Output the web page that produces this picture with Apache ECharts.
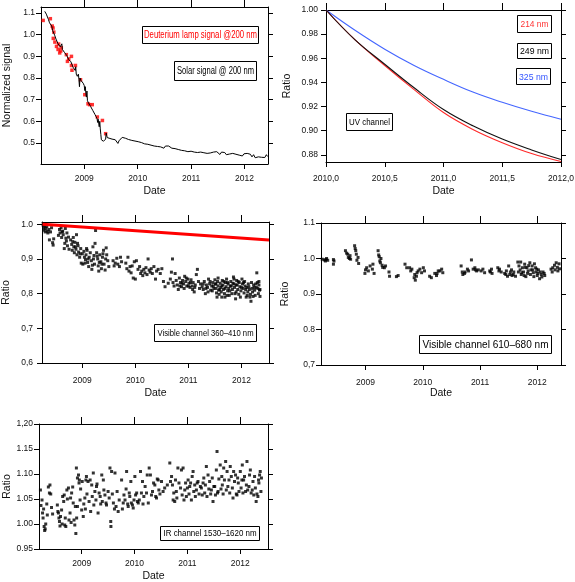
<!DOCTYPE html>
<html>
<head>
<meta charset="utf-8">
<script src="https://cdn.jsdelivr.net/npm/echarts@6/dist/echarts.min.js"></script>
<style>
html,body{margin:0;padding:0;background:#fff;}
#chart{width:575px;height:582px;}
</style>
</head>
<body>
<div id="chart"></div>
<script>
// ---------------- DATA ----------------
// Panel 1: normalized signal
const solarSignal = [
[2008.26,1.108],[2008.29,1.095],[2008.31,1.088],[2008.33,1.070],[2008.35,1.055],[2008.37,1.062],[2008.39,1.040],[2008.41,1.018],[2008.43,1.010],[2008.45,0.995],[2008.47,0.980],[2008.49,0.972],[2008.51,0.958],[2008.53,0.950],[2008.55,0.944],[2008.57,0.936],[2008.58,0.958],[2008.59,0.932],[2008.61,0.925],[2008.63,0.918],[2008.65,0.910],[2008.67,0.905],[2008.69,0.896],[2008.70,0.905],[2008.71,0.885],[2008.73,0.892],[2008.75,0.875],[2008.77,0.862],[2008.79,0.850],[2008.81,0.842],[2008.83,0.835],[2008.84,0.852],[2008.85,0.818],[2008.87,0.808],[2008.88,0.800],[2008.89,0.818],[2008.90,0.795],[2008.91,0.760],[2008.92,0.800],[2008.94,0.788],[2008.96,0.782],[2008.98,0.776],[2009.00,0.765],[2009.01,0.742],[2009.02,0.760],[2009.03,0.728],[2009.04,0.712],[2009.05,0.740],[2009.06,0.695],[2009.08,0.685],[2009.10,0.678],[2009.12,0.668],[2009.14,0.660],[2009.16,0.650],[2009.18,0.642],[2009.20,0.632],[2009.22,0.622],[2009.24,0.612],[2009.25,0.595],[2009.26,0.610],[2009.28,0.575],[2009.29,0.600],[2009.30,0.565],[2009.31,0.540],[2009.32,0.515],[2009.34,0.512],[2009.36,0.508],[2009.38,0.506],[2009.40,0.518],[2009.41,0.546],[2009.43,0.525],[2009.45,0.520],[2009.48,0.521],
[2009.52,0.518],[2009.55,0.512],[2009.58,0.515],[2009.61,0.508],[2009.63,0.498],[2009.65,0.510],[2009.68,0.514],[2009.71,0.526],[2009.74,0.530],[2009.77,0.522],[2009.80,0.524],[2009.83,0.516],[2009.86,0.520],[2009.89,0.512],[2009.92,0.516],[2009.95,0.509],[2009.98,0.514],[2010.01,0.506],[2010.04,0.512],[2010.07,0.502],[2010.10,0.508],[2010.13,0.496],[2010.16,0.504],[2010.19,0.494],[2010.22,0.498],[2010.25,0.490],[2010.28,0.496],[2010.31,0.486],[2010.34,0.492],[2010.37,0.484],[2010.40,0.490],[2010.43,0.482],[2010.46,0.478],[2010.49,0.476],[2010.52,0.486],[2010.55,0.484],[2010.58,0.486],[2010.61,0.480],[2010.64,0.476],[2010.67,0.479],[2010.70,0.474],[2010.73,0.480],[2010.76,0.470],[2010.79,0.476],[2010.82,0.466],[2010.85,0.472],[2010.88,0.464],[2010.91,0.468],[2010.94,0.460],[2010.97,0.466],[2011.00,0.462],[2011.03,0.468],[2011.06,0.458],[2011.09,0.464],[2011.12,0.456],[2011.15,0.462],[2011.18,0.458],[2011.21,0.464],[2011.24,0.455],[2011.27,0.460],[2011.30,0.452],[2011.33,0.461],[2011.36,0.454],[2011.39,0.463],[2011.42,0.458],[2011.45,0.451],[2011.48,0.460],[2011.51,0.453],[2011.54,0.447],[2011.57,0.458],[2011.60,0.450],[2011.63,0.456],[2011.66,0.446],[2011.69,0.455],[2011.72,0.449],[2011.75,0.458],[2011.78,0.452],[2011.81,0.461],[2011.84,0.448],[2011.87,0.454],[2011.90,0.444],[2011.93,0.452],[2011.96,0.440],[2011.99,0.450],[2012.02,0.445],[2012.05,0.452],[2012.08,0.444],[2012.11,0.448],[2012.14,0.436],[2012.17,0.446],[2012.20,0.432],[2012.23,0.440],[2012.26,0.436],[2012.29,0.442],[2012.32,0.434],[2012.35,0.440],[2012.38,0.433],[2012.41,0.446],[2012.43,0.438]
];
const deuteriumSignal = [
[2008.23,1.066],[2008.365,1.074],[2008.40,1.040],[2008.415,1.031],[2008.43,1.012],[2008.42,0.983],[2008.45,0.966],[2008.48,0.946],[2008.52,0.957],[2008.51,0.932],[2008.54,0.916],[2008.56,0.925],[2008.57,0.940],[2008.665,0.908],[2008.685,0.877],[2008.71,0.888],[2008.76,0.900],[2008.76,0.858],[2008.835,0.858],[2008.77,0.836],[2008.93,0.792],[2009.01,0.723],[2009.07,0.681],[2009.10,0.677],[2009.15,0.677],[2009.245,0.620],[2009.34,0.604],[2009.40,0.543]
];
const p1XTicks = [2009, 2010, 2011, 2012];
const p1XLabels = ['2009', '2010', '2011', '2012'];
const p1YTicks = [0.5, 0.6, 0.7, 0.8, 0.9, 1.0, 1.1];
const p1YLabels = ['0.5', '0.6', '0.7', '0.8', '0.9', '1.0', '1.1'];

// Panel 2: UV channel ratio
const uvDates = [2010, 2010.25, 2010.5, 2010.75, 2011, 2011.25, 2011.5, 2011.75, 2012];
const uv214 = [1.000, 0.975, 0.954, 0.934, 0.915, 0.901, 0.890, 0.881, 0.8744];
const uv249 = [1.000, 0.975, 0.955, 0.9355, 0.9175, 0.904, 0.893, 0.884, 0.876];
const uv325 = [1.000, 0.983, 0.9675, 0.954, 0.9425, 0.932, 0.9235, 0.916, 0.9095];
const p2XTicks = [2010, 2010.5, 2011, 2011.5, 2012];
const p2XLabels = ['2010,0', '2010,5', '2011,0', '2011,5', '2012,0'];
const p2YTicks = [0.88, 0.90, 0.92, 0.94, 0.96, 0.98, 1.00];
const p2YLabels = ['0.88', '0.90', '0.92', '0.94', '0.96', '0.98', '1.00'];

// Panel 3: visible channel 360-410 nm
const vis360 = [
[2008.26,0.998],[2008.27,0.990],[2008.28,0.983],[2008.29,0.995],[2008.30,0.978],[2008.31,0.988],[2008.33,0.993],[2008.34,0.980],[2008.35,0.975],[2008.37,0.985],[2008.38,0.955],[2008.40,0.978],[2008.42,0.990],[2008.44,0.947],[2008.45,0.940],[2008.46,0.958],
[2008.55,0.968],[2008.57,0.985],[2008.58,0.975],[2008.60,0.990],[2008.61,0.962],[2008.62,0.978],[2008.63,0.980],[2008.64,0.970],[2008.66,0.930],[2008.67,0.945],[2008.68,0.988],[2008.69,0.960],[2008.70,0.952],[2008.71,0.975],[2008.72,0.938],[2008.74,0.963],[2008.75,0.928],
[2008.78,0.955],[2008.80,0.942],[2008.81,0.925],[2008.82,0.950],[2008.83,0.962],[2008.84,0.935],[2008.85,0.918],[2008.86,0.948],[2008.87,0.935],[2008.88,0.928],[2008.89,0.970],[2008.90,0.912],[2008.91,0.945],[2008.92,0.938],[2008.93,0.920],[2008.95,0.905],[2008.96,0.915],[2008.97,0.930],[2008.98,0.888],[2009.00,0.915],[2009.01,0.885],
[2009.03,0.922],[2009.04,0.905],[2009.05,0.888],[2009.06,0.898],[2009.07,0.912],[2009.08,0.930],[2009.09,0.925],[2009.10,0.890],[2009.11,0.900],[2009.12,0.878],[2009.13,0.905],[2009.15,0.918],[2009.17,0.895],[2009.18,0.870],[2009.19,0.882],[2009.20,0.935],[2009.21,0.900],[2009.22,0.910],[2009.23,0.885],[2009.24,0.945],[2009.25,0.982],
[2009.27,0.918],[2009.28,0.908],[2009.29,0.900],[2009.30,0.880],[2009.31,0.865],[2009.32,0.890],[2009.33,0.912],[2009.35,0.892],[2009.36,0.872],[2009.37,0.885],[2009.38,0.905],[2009.39,0.915],[2009.40,0.925],[2009.41,0.885],[2009.43,0.868],[2009.44,0.900],[2009.45,0.932],[2009.46,0.912],[2009.48,0.895],[2009.50,0.878],
[2009.58,0.895],[2009.60,0.880],[2009.62,0.888],[2009.65,0.902],[2009.67,0.885],[2009.70,0.878],[2009.72,0.905],[2009.74,0.892],
[2009.82,0.888],[2009.84,0.872],[2009.86,0.905],[2009.88,0.865],[2009.90,0.878],[2009.92,0.860],[2009.94,0.880],[2009.96,0.845],[2009.98,0.892],[2010.00,0.842],[2010.02,0.895],
[2010.05,0.870],[2010.08,0.878],[2010.10,0.858],[2010.12,0.865],[2010.14,0.852],[2010.16,0.870],[2010.18,0.860],[2010.20,0.875],[2010.22,0.855],[2010.24,0.900],[2010.26,0.868],[2010.28,0.862],[2010.30,0.872],[2010.32,0.858],[2010.35,0.878],[2010.38,0.842],[2010.40,0.865],[2010.43,0.870],[2010.47,0.858],[2010.50,0.872],
[2010.53,0.835],[2010.56,0.820],[2010.62,0.830],[2010.66,0.842],[2010.68,0.862],[2010.70,0.900],[2010.71,0.832],[2010.73,0.822],[2010.75,0.858],
[2010.77,0.838],[2010.79,0.825],[2010.81,0.812],[2010.83,0.845],[2010.84,0.822],[2010.85,0.832],[2010.87,0.820],[2010.88,0.830],[2010.89,0.838],[2010.91,0.828],[2010.92,0.815],[2010.93,0.850],[2010.95,0.835],[2010.96,0.845],[2010.97,0.822],[2010.99,0.842],
[2011.00,0.822],[2011.01,0.830],[2011.03,0.818],[2011.04,0.832],[2011.05,0.840],[2011.07,0.822],[2011.08,0.812],[2011.09,0.832],[2011.11,0.805],[2011.12,0.818],[2011.13,0.825],[2011.15,0.855],[2011.17,0.870],[2011.19,0.835],[2011.21,0.815],[2011.23,0.828],
[2011.26,0.820],[2011.28,0.812],[2011.28,0.828],[2011.30,0.835],[2011.32,0.800],[2011.33,0.815],[2011.34,0.825],[2011.36,0.818],[2011.37,0.805],[2011.38,0.842],[2011.40,0.828],[2011.41,0.835],[2011.42,0.810],[2011.44,0.822],[2011.45,0.808],[2011.46,0.832],[2011.47,0.822],[2011.48,0.815],
[2011.50,0.840],[2011.51,0.828],[2011.52,0.815],[2011.52,0.828],[2011.53,0.802],[2011.54,0.790],[2011.55,0.835],[2011.56,0.822],[2011.56,0.845],[2011.57,0.810],[2011.58,0.798],[2011.59,0.812],[2011.60,0.830],[2011.61,0.818],[2011.62,0.805],[2011.63,0.790],[2011.63,0.822],[2011.64,0.838],[2011.65,0.825],[2011.66,0.812],[2011.67,0.835],[2011.68,0.800],[2011.69,0.815],[2011.69,0.790],[2011.70,0.832],[2011.71,0.820],[2011.72,0.842],[2011.73,0.795],[2011.74,0.808],[2011.74,0.832],[2011.75,0.828],[2011.76,0.815],[2011.77,0.795],[2011.78,0.808],[2011.79,0.822],[2011.80,0.835],[2011.81,0.822],[2011.82,0.800],[2011.83,0.812],[2011.84,0.830],[2011.85,0.848],[2011.86,0.828],[2011.86,0.842],[2011.87,0.818],[2011.88,0.800],[2011.89,0.785],[2011.90,0.805],[2011.90,0.825],[2011.91,0.838],[2011.92,0.825],[2011.93,0.812],[2011.94,0.835],[2011.95,0.798],[2011.96,0.832],[2011.97,0.820],[2011.98,0.790],[2011.99,0.808],
[2012.00,0.818],[2012.01,0.842],[2012.02,0.828],[2012.03,0.815],[2012.04,0.832],[2012.05,0.802],[2012.06,0.835],[2012.07,0.822],[2012.08,0.812],[2012.09,0.790],[2012.10,0.818],[2012.11,0.795],[2012.12,0.805],[2012.13,0.828],[2012.14,0.820],[2012.15,0.812],[2012.16,0.790],[2012.17,0.798],[2012.18,0.778],[2012.19,0.832],[2012.20,0.815],[2012.21,0.805],[2012.22,0.792],[2012.23,0.825],[2012.24,0.818],[2012.25,0.810],[2012.26,0.795],[2012.27,0.828],[2012.28,0.818],[2012.29,0.860],[2012.30,0.832],[2012.31,0.815],[2012.32,0.800],[2012.33,0.825],[2012.33,0.835],[2012.34,0.810],[2012.35,0.792],[2012.35,0.812]
];
const vis360Ref = [[2008.25, 1.0], [2012.52, 0.955]];
const p3XTicks = [2009, 2010, 2011, 2012];
const p3XLabels = ['2009', '2010', '2011', '2012'];
const p3YTicks = [0.6, 0.7, 0.8, 0.9, 1.0];
const p3YLabels = ['0,6', '0,7', '0,8', '0,9', '1.0'];

// Panel 4: visible channel 610-680 nm
const vis610 = [
[2008.244,0.998],[2008.28,0.996],[2008.30,0.993],[2008.31,0.997],[2008.32,1.000],[2008.34,0.995],[2008.44,0.997],[2008.45,0.993],[2008.44,0.984],
[2008.65,1.022],[2008.67,1.015],[2008.69,1.012],[2008.70,1.003],[2008.72,1.000],[2008.73,1.008],[2008.74,0.998],[2008.81,1.036],[2008.82,1.028],[2008.83,1.022],[2008.84,1.012],[2008.85,0.995],[2008.87,1.003],[2008.88,0.986],
[2008.99,0.958],[2009.00,0.968],[2009.02,0.974],[2009.05,0.965],[2009.08,0.979],[2009.12,0.970],[2009.13,0.984],[2009.15,0.958],
[2009.22,1.022],[2009.23,1.010],[2009.24,1.005],[2009.25,0.993],[2009.26,0.988],[2009.27,1.000],[2009.29,0.981],[2009.30,0.975],[2009.33,0.974],[2009.35,0.979],
[2009.41,0.962],[2009.42,0.950],[2009.54,0.949],[2009.57,0.952],
[2009.69,0.984],[2009.72,0.974],[2009.77,0.974],[2009.79,0.965],[2009.81,0.970],[2009.85,0.946],[2009.86,0.955],[2009.87,0.939],[2009.89,0.950],[2009.90,0.960],[2009.92,0.965],[2009.95,0.970],[2009.98,0.960],[2010.01,0.974],[2010.03,0.965],
[2010.12,0.950],[2010.15,0.946],[2010.21,0.958],[2010.24,0.952],[2010.25,0.958],[2010.27,0.965],[2010.30,0.965],[2010.33,0.970],[2010.35,0.960],
[2010.67,0.979],[2010.69,0.962],[2010.70,0.955],[2010.73,0.958],[2010.74,0.962],[2010.78,0.970],[2010.80,0.965],
[2010.85,0.996],[2010.88,0.970],[2010.91,0.974],[2010.92,0.968],[2010.94,0.965],[2010.97,0.968],
[2011.02,0.965],[2011.05,0.970],[2011.08,0.960],[2011.17,0.965],[2011.18,0.962],[2011.20,0.970],[2011.21,0.958],
[2011.31,0.974],[2011.33,0.965],[2011.34,0.970],[2011.37,0.962],[2011.43,0.958],[2011.45,0.955],[2011.46,0.965],[2011.48,0.950],[2011.50,0.979],[2011.52,0.955],[2011.53,0.962],[2011.55,0.968],[2011.56,0.952],[2011.58,0.955],[2011.59,0.962],[2011.62,0.950],
[2011.66,0.990],[2011.67,0.962],[2011.68,0.979],[2011.70,0.968],[2011.71,0.990],[2011.72,0.955],[2011.73,0.960],[2011.74,0.974],[2011.76,0.962],[2011.77,0.952],[2011.78,0.984],[2011.79,0.975],[2011.80,0.949],[2011.82,0.974],[2011.83,0.958],[2011.84,0.965],[2011.85,0.980],[2011.87,0.988],[2011.88,0.955],[2011.89,0.968],[2011.91,0.979],[2011.92,0.968],[2011.93,0.960],[2011.94,0.949],[2011.95,0.985],[2011.97,0.974],[2011.98,0.962],[2011.99,0.970],[2012.00,0.952],[2012.01,0.958],[2012.02,0.968],[2012.04,0.943],[2012.05,0.962],[2012.07,0.955],[2012.08,0.948],[2012.10,0.962],[2012.12,0.958],[2012.13,0.952],
[2012.24,0.970],[2012.26,0.962],[2012.27,0.974],[2012.30,0.981],[2012.31,0.968],[2012.33,0.988],[2012.35,0.975],[2012.36,0.965],[2012.38,0.985],[2012.39,0.971]
];
const p4XTicks = [2009, 2010, 2011, 2012];
const p4XLabels = ['2009', '2010', '2011', '2012'];
const p4YTicks = [0.7, 0.8, 0.9, 1.0, 1.1];
const p4YLabels = ['0,7', '0.8', '0.9', '1.0', '1.1'];

// Panel 5: IR channel 1530-1620 nm
const ir1530 = [
[2008.22,1.068],[2008.23,1.037],[2008.25,1.048],[2008.26,1.022],[2008.27,1.012],[2008.28,1.030],[2008.29,0.995],[2008.30,0.987],[2008.31,0.990],[2008.32,1.000],[2008.34,1.040],[2008.35,1.018],[2008.37,1.074],[2008.39,1.062],[2008.40,1.078],[2008.415,1.060],[2008.43,1.033],[2008.45,1.020],
[2008.54,1.038],[2008.55,1.025],[2008.56,1.022],[2008.57,1.012],[2008.58,1.005],[2008.59,0.996],[2008.60,1.015],[2008.62,1.028],[2008.63,1.000],[2008.64,1.055],[2008.66,1.045],[2008.67,1.058],[2008.68,0.998],[2008.69,1.012],[2008.70,0.995],[2008.72,1.068],[2008.73,1.050],[2008.75,1.072],[2008.76,1.008],[2008.78,1.022],[2008.79,1.052],[2008.80,1.003],[2008.81,1.062],[2008.83,1.074],[2008.84,1.042],[2008.855,1.008],[2008.87,0.998],[2008.88,1.035],[2008.89,0.981],[2008.905,1.012],[2008.92,1.035],
[2008.90,1.112],[2008.92,1.092],[2008.94,1.098],[2008.95,1.082],[2008.956,1.088],[2008.97,1.048],[2008.98,1.070],[2009.00,1.028],[2009.01,1.085],[2009.03,1.015],[2009.04,1.040],[2009.06,1.052],[2009.07,1.030],[2009.08,1.088],[2009.09,1.095],[2009.10,1.060],
[2009.12,1.085],[2009.14,1.045],[2009.16,1.088],[2009.17,1.025],[2009.19,1.078],[2009.20,1.055],[2009.22,1.102],[2009.23,1.038],[2009.25,1.065],[2009.27,1.048],[2009.28,1.075],[2009.29,1.080],[2009.31,1.022],[2009.33,1.062],[2009.35,1.055],[2009.36,1.040],[2009.38,1.098],[2009.39,1.045],[2009.41,1.088],[2009.42,1.068],[2009.44,1.058],[2009.46,1.042],[2009.47,1.038],
[2009.50,1.065],[2009.52,1.052],[2009.535,1.112],[2009.55,1.005],[2009.553,0.995],[2009.566,1.105],[2009.58,1.060],[2009.60,1.042],[2009.62,1.030],[2009.63,1.102],[2009.65,1.035],[2009.67,1.065],[2009.69,1.025],[2009.71,1.048],
[2009.755,1.088],[2009.77,1.030],[2009.786,1.042],[2009.80,1.058],[2009.82,1.048],[2009.84,1.070],[2009.85,1.105],[2009.87,1.040],[2009.88,1.035],[2009.90,1.062],[2009.91,1.055],[2009.93,1.085],[2009.94,1.042],[2009.96,1.038],[2009.975,1.032],[2009.99,1.048],[2010.006,1.095],[2010.02,1.058],[2010.04,1.062],[2010.055,1.045],[2010.07,1.042],[2010.09,1.048],
[2010.113,1.105],[2010.13,1.062],[2010.15,1.085],[2010.16,1.040],[2010.176,1.055],[2010.20,1.075],[2010.226,1.062],[2010.24,1.098],[2010.26,1.042],[2010.277,1.112],[2010.30,1.098],[2010.32,1.058],[2010.34,1.065],[2010.36,1.082],[2010.384,1.078],[2010.40,1.055],[2010.415,1.052],[2010.43,1.090],[2010.447,1.088],[2010.46,1.068],[2010.48,1.060],
[2010.51,1.085],[2010.54,1.065],[2010.57,1.072],[2010.62,1.078],[2010.667,1.122],[2010.68,1.085],[2010.70,1.095],[2010.717,1.078],[2010.73,1.048],[2010.742,1.062],[2010.76,1.045],[2010.775,1.088],[2010.79,1.065],[2010.80,1.052],[2010.82,1.112],[2010.84,1.082],
[2010.87,1.072],[2010.887,1.108],[2010.90,1.058],[2010.918,1.112],[2010.935,1.048],[2010.95,1.068],[2010.965,1.082],[2010.98,1.055],[2011.00,1.072],[2011.013,1.088],[2011.03,1.060],[2011.044,1.075],[2011.06,1.082],[2011.075,1.048],[2011.09,1.095],[2011.107,1.105],[2011.12,1.065],[2011.138,1.078],[2011.15,1.055],[2011.17,1.068],[2011.185,1.082],[2011.20,1.085],
[2011.22,1.060],[2011.245,1.075],[2011.264,1.072],[2011.28,1.058],[2011.296,1.082],[2011.31,1.092],[2011.327,1.062],[2011.34,1.078],[2011.358,1.115],[2011.37,1.055],[2011.39,1.098],[2011.405,1.070],[2011.42,1.085],[2011.44,1.060],[2011.453,1.068],[2011.47,1.092],[2011.484,1.045],[2011.50,1.075],[2011.516,1.075],[2011.53,1.058],[2011.547,1.108],[2011.56,1.145],[2011.57,1.062],[2011.58,1.065],[2011.595,1.090],
[2011.62,1.118],[2011.635,1.070],[2011.65,1.095],[2011.66,1.078],[2011.675,1.060],[2011.686,1.112],[2011.70,1.088],[2011.723,1.125],[2011.735,1.068],[2011.75,1.105],[2011.765,1.075],[2011.786,1.088],[2011.80,1.062],[2011.81,1.115],[2011.83,1.095],[2011.85,1.072],[2011.862,1.052],[2011.874,1.105],[2011.89,1.085],[2011.91,1.098],[2011.925,1.060],[2011.937,1.058],[2011.95,1.092],[2011.962,1.082],[2011.975,1.065],
[2012.00,1.105],[2012.015,1.072],[2012.03,1.088],[2012.038,1.118],[2012.05,1.062],[2012.063,1.088],[2012.08,1.095],[2012.10,1.065],[2012.115,1.078],[2012.126,1.125],[2012.14,1.068],[2012.164,1.075],[2012.175,1.098],[2012.19,1.108],[2012.205,1.062],[2012.226,1.068],[2012.24,1.085],[2012.255,1.058],[2012.27,1.095],[2012.285,1.072],[2012.30,1.045],[2012.315,1.060],[2012.333,1.055],[2012.345,1.088],[2012.352,1.082],[2012.365,1.098],[2012.377,1.105],[2012.39,1.065],[2012.40,1.092]
];
const p5XTicks = [2009, 2010, 2011, 2012];
const p5XLabels = ['2009', '2010', '2011', '2012'];
const p5YTicks = [0.95, 1.00, 1.05, 1.10, 1.15, 1.20];
const p5YLabels = ['0.95', '1.00', '1.05', '1.10', '1.15', '1,20'];

// ---------------- RENDER ----------------
const FONT = '"Liberation Sans", Arial, sans-serif';
function fmtFrom(ticks, labels) {
  return function (v) {
    let bi = 0, bd = Infinity;
    ticks.forEach((t, i) => { const d = Math.abs(t - v); if (d < bd) { bd = d; bi = i; } });
    return labels[bi];
  };
}
const xAxes = [], yAxes = [], grids = [];
function panel(gi, box, xr, yr, xt, xl, yt, yl, yname, st) {
  grids.push({ left: box[0], top: box[1], width: box[2], height: box[3], containLabel: false, outerBoundsMode: 'none', show: false });
  const line = { show: true, onZero: false, lineStyle: { color: '#000', width: 1 } };
  xAxes.push({
    type: 'value', gridIndex: gi, position: 'bottom', min: xr[0], max: xr[1],
    axisLine: line, splitLine: { show: false },
    axisTick: { show: true, customValues: xt, length: 5, lineStyle: { color: '#000' } },
    axisLabel: { show: true, customValues: xt, formatter: fmtFrom(xt, xl), margin: st.xm, fontSize: 8.5, fontFamily: FONT, color: '#111' },
    name: 'Date', nameLocation: 'middle', nameGap: st.xg, nameMoveOverlap: false,
    nameTextStyle: { fontSize: 10.5, fontFamily: FONT, color: '#111' }
  });
  xAxes.push({
    type: 'value', gridIndex: gi, position: 'top', min: xr[0], max: xr[1],
    axisLine: line, splitLine: { show: false },
    axisTick: { show: true, customValues: xt, length: 7, lineStyle: { color: '#000' } },
    axisLabel: { show: false }
  });
  yAxes.push({
    type: 'value', gridIndex: gi, position: 'left', min: yr[0], max: yr[1],
    axisLine: line, splitLine: { show: false },
    axisTick: { show: true, customValues: yt, length: 5, lineStyle: { color: '#000' } },
    axisLabel: { show: true, customValues: yt, formatter: fmtFrom(yt, yl), margin: st.ym, fontSize: 8.5, fontFamily: FONT, color: '#111' },
    name: yname, nameLocation: 'middle', nameGap: st.yg, nameMoveOverlap: false,
    nameTextStyle: { fontSize: 10.5, fontFamily: FONT, color: '#111' }
  });
  yAxes.push({
    type: 'value', gridIndex: gi, position: 'right', min: yr[0], max: yr[1],
    axisLine: line, splitLine: { show: false },
    axisTick: { show: true, customValues: yt, length: 5, lineStyle: { color: '#000' } },
    axisLabel: { show: false }
  });
}
panel(0, [41, 7, 227, 157], [2008.19, 2012.44], [0.403, 1.128], p1XTicks, p1XLabels, p1YTicks, p1YLabels, 'Normalized signal', { xm: 10, xg: 22, ym: 6, yg: 28 });
panel(1, [326, 10, 235, 152], [2010, 2012], [0.874, 1.0], p2XTicks, p2XLabels, p2YTicks, p2YLabels, 'Ratio', { xm: 12, xg: 24, ym: 8, yg: 33 });
panel(2, [42, 222, 227, 141], [2008.24, 2012.52], [0.6, 1.0066], p3XTicks, p3XLabels, p3YTicks, p3YLabels, 'Ratio', { xm: 13, xg: 25, ym: 9, yg: 30 });
panel(3, [321, 223, 240, 142], [2008.223, 2012.414], [0.7, 1.1], p4XTicks, p4XLabels, p4YTicks, p4YLabels, 'Ratio', { xm: 13, xg: 23, ym: 6, yg: 30 });
panel(4, [39, 424, 229, 125], [2008.193, 2012.524], [0.95, 1.20], p5XTicks, p5XLabels, p5YTicks, p5YLabels, 'Ratio', { xm: 10, xg: 22, ym: 6, yg: 26 });

const zip = (xs, ys) => xs.map((x, i) => [x, ys[i]]);
const sq = (gi, data, color, size) => ({
  type: 'scatter', xAxisIndex: 2 * gi, yAxisIndex: 2 * gi, data: data,
  symbol: 'rect', symbolSize: size, itemStyle: { color: color }, silent: true
});
const ln = (gi, data, color, width, smooth) => ({
  type: 'line', xAxisIndex: 2 * gi, yAxisIndex: 2 * gi, data: data, showSymbol: false, symbol: 'none',
  smooth: smooth, lineStyle: { color: color, width: width }, silent: true
});
const series = [
  sq(0, deuteriumSignal, '#ff0000', 3.5),
  ln(0, solarSignal, '#000', 1, false),
  ln(1, zip(uvDates, uv325), '#4466ff', 1.1, 0.4),
  ln(1, zip(uvDates, uv214), '#ff2a2a', 1.1, 0.4),
  ln(1, zip(uvDates, uv249), '#111', 1.1, 0.4),
  sq(2, vis360, '#000', 3),
  ln(2, vis360Ref, '#ff0000', 3, false),
  sq(3, vis610, '#000', 3),
  sq(4, ir1530, '#000', 3)
];

// text boxes
const mctx = document.createElement('canvas').getContext('2d');
const graphics = [];
function tbox(rx, ry, rw, rh, text, color, fs, tw) {
  mctx.font = fs + 'px ' + FONT;
  const m = mctx.measureText(text).width;
  const sx = tw / m;
  graphics.push({ type: 'rect', shape: { x: rx + 0.5, y: ry + 0.5, width: rw, height: rh }, style: { fill: '#fff', stroke: '#000', lineWidth: 1 }, z: 100 });
  graphics.push({ type: 'text', x: rx + rw / 2 + 0.5, y: ry + rh / 2 + 1, scaleX: sx, style: { text: text, fill: color, fontSize: fs, fontFamily: FONT, align: 'center', verticalAlign: 'middle' }, z: 101 });
}
tbox(142, 26, 116, 17, 'Deuterium lamp signal @200 nm', '#ff0000', 10, 113);
tbox(174, 61, 82, 19, 'Solar signal @ 200 nm', '#000', 10, 77);
tbox(517, 15, 34, 17, '214 nm', '#ff3333', 9.5, 28);
tbox(517, 43, 34, 15, '249 nm', '#000', 9.5, 29);
tbox(516, 68, 34, 16, '325 nm', '#3355ff', 9.5, 29);
tbox(346, 113, 46, 17, 'UV channel', '#000', 9.5, 41);
tbox(154, 324, 102, 17, 'Visible channel 360–410 nm', '#000', 9.5, 96);
tbox(419, 335, 132, 18, 'Visible channel 610–680 nm', '#000', 11, 126);
tbox(160, 526, 99, 14, 'IR channel 1530–1620 nm', '#000', 9, 93);

const chart = echarts.init(document.getElementById('chart'), null, { renderer: 'canvas' });
chart.setOption({
  animation: false,
  backgroundColor: '#fff',
  grid: grids,
  xAxis: xAxes,
  yAxis: yAxes,
  series: series,
  graphic: graphics
});
</script>
</body>
</html>
